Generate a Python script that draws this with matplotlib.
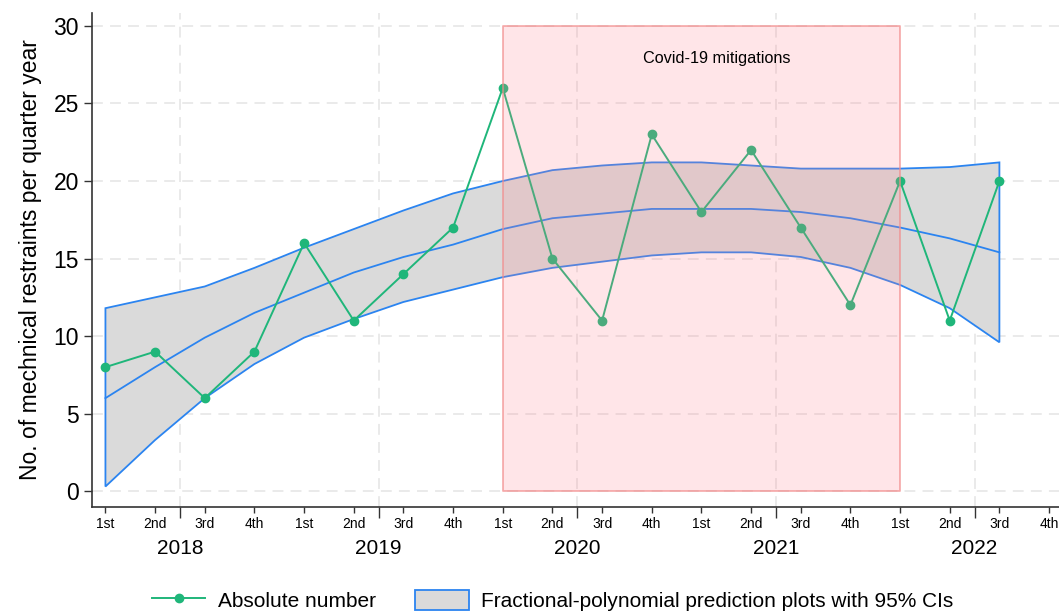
import numpy as np
import matplotlib
matplotlib.use("Agg")
import matplotlib.pyplot as plt
from matplotlib.patches import Patch
from matplotlib.lines import Line2D

plt.rcParams['font.family'] = ['Liberation Sans', 'DejaVu Sans']

# dados (trimestres 2018 Q1 .. 2022 Q3)
quarter_labels = ["1st", "2nd", "3rd", "4th"]
years = ["2018", "2019", "2020", "2021", "2022"]
absolute = [8, 9, 6, 9, 16, 11, 14, 17, 26, 15, 11, 23, 18, 22, 17, 12, 20, 11, 20]
fit = [6.0, 8.0, 9.9, 11.5, 12.8, 14.1, 15.1, 15.9, 16.9, 17.6, 17.9, 18.2, 18.2,
       18.2, 18.0, 17.6, 17.0, 16.3, 15.4]
upper = [11.8, 12.5, 13.2, 14.4, 15.7, 16.9, 18.1, 19.2, 20.0, 20.7, 21.0, 21.2, 21.2,
         21.0, 20.8, 20.8, 20.8, 20.9, 21.2]
lower = [0.3, 3.3, 6.0, 8.2, 9.9, 11.1, 12.2, 13.0, 13.8, 14.4, 14.8, 15.2, 15.4,
         15.4, 15.1, 14.4, 13.3, 11.8, 9.6]
covid_start, covid_end = 8, 16  # 2020 Q1 .. 2022 Q1

x = np.arange(len(absolute))
green = "#1fb67a"
blue = "#2b84f0"

fig = plt.figure(figsize=(10.59, 6.14), dpi=100)
ax = fig.add_axes([0.0869, 0.174, 0.9131, 0.805])

# banda de confianca
ax.fill(np.concatenate([x, x[::-1]]), np.concatenate([upper, lower[::-1]]),
        facecolor="#dadada", edgecolor=blue, linewidth=1.3, zorder=2)
ax.plot(x, fit, color=blue, linewidth=1.3, zorder=3)

ax.plot(x, absolute, color=green, linewidth=1.4, marker="o", markersize=6, zorder=4)

# periodo covid
ax.fill_between([covid_start, covid_end], 0, 30, facecolor=(1.0, 0.5, 0.55, 0.2),
                edgecolor=(0.95, 0.55, 0.55, 0.7), linewidth=1.3, zorder=5)
ax.text(12.3, 27.9, "Covid-19 mitigations", ha="center", va="center", fontsize=11.7, zorder=6)

ax.set_xlim(-0.27, 19.2)
ax.set_ylim(-1.03, 30.84)

ax.set_yticks(range(0, 31, 5))
ax.set_xticks(np.arange(20), minor=True)
ax.set_xticklabels(quarter_labels * 5, minor=True)
ax.set_xticks(np.arange(1.5, 20, 4))
ax.set_xticklabels(years)

ax.tick_params(axis="y", labelsize=16.5, length=6, width=1, color="#333333")
ax.tick_params(axis="x", which="minor", labelsize=10, length=4, width=1, pad=3, color="#333333")
ax.tick_params(axis="x", which="major", labelsize=15, length=8, width=1, pad=15, color="#333333")

ax.grid(which="major", color="#e8e8e8", linestyle=(0, (6, 4)), linewidth=1.3, zorder=0)
ax.set_axisbelow(True)

for s in ["top", "right"]:
    ax.spines[s].set_visible(False)
for s in ["left", "bottom"]:
    ax.spines[s].set_color("#333333")
    ax.spines[s].set_linewidth(1.2)

ax.set_ylabel("No. of mechnical restraints per quarter year", fontsize=16.5, labelpad=8)

handles = [
    Line2D([0], [0], color=green, linewidth=1.4, marker="o", markersize=6),
    Patch(facecolor="#dadada", edgecolor=blue, linewidth=1.3),
]
fig.legend(handles, ["Absolute number", "Fractional-polynomial prediction plots with 95% CIs"],
           loc="center", bbox_to_anchor=(0.522, 0.022), ncol=2, frameon=False, fontsize=15,
           handlelength=2.55, columnspacing=1.9, handleheight=1.15, handletextpad=0.6)

fig.savefig("out.png", dpi=100)
